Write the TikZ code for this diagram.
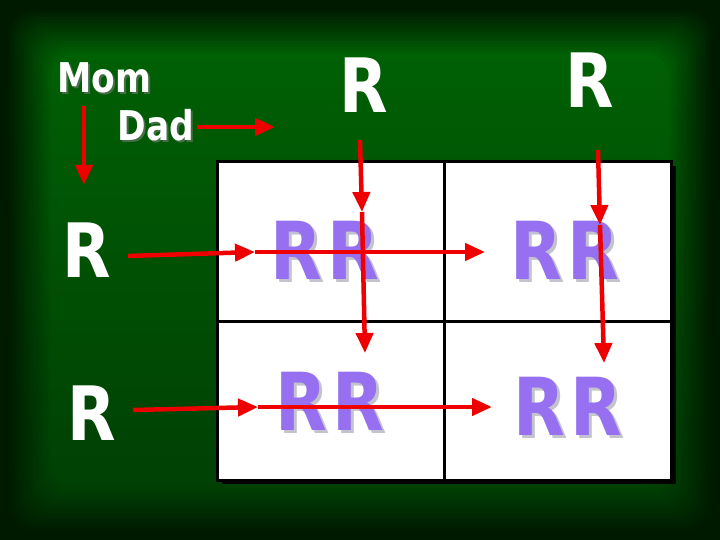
\documentclass[tikz,border=0pt]{standalone}
\usepackage{fontspec}
\setmainfont{DejaVu Sans}
\newfontfamily\chalkfont{DejaVu Sans}[FakeStretch=0.84]
\usetikzlibrary{arrows.meta}
\definecolor{bgedge}{RGB}{0,26,0}
\definecolor{bgtop}{RGB}{0,96,4}
\definecolor{bgbot}{RGB}{0,64,4}
\definecolor{arrowred}{RGB}{238,0,0}
\definecolor{allele}{RGB}{150,112,240}
\definecolor{allelegray}{RGB}{195,195,205}
\definecolor{chalkgray}{RGB}{70,110,70}
% text with a drop shadow behind it: colour, offset, text
\newcommand\withshadow[3]{\makebox[0pt][l]{\hspace{#2}\raisebox{-#2}{\textcolor{#1}{#3}}}#3}
\begin{document}
\begin{tikzpicture}[
        x=1pt,y=-1pt,
        every node/.style={inner sep=0pt},
        parent/.style={text=white,font=\chalkfont\bfseries\fontsize{75}{75}\selectfont},
        who/.style={text=white,font=\chalkfont\bfseries\fontsize{41}{41}\selectfont},
        geno/.style={text=allele,font=\chalkfont\bfseries\fontsize{80}{80}\selectfont},
        cell/.style={draw=black,fill=white,line width=3pt,minimum width=227pt,minimum height=159pt},
        redarrow/.style={draw=arrowred,line width=4.5pt,-{Triangle[length=20pt,width=17pt]}}
    ]
\useasboundingbox (0,0) rectangle (720,540);
% Board
    \fill[bgedge] (0,0) rectangle (720,540);
\foreach\i in {0,...,15}{
    \pgfmathtruncatemacro\p{\i*100/15}
    \shade[top color=bgtop!\p!bgedge,bottom color=bgbot!\p!bgedge,rounded corners=24pt]
        (6+3*\i,8+3*\i) rectangle (714-3*\i,534-3*\i);
}
% Square
    \fill[black!80!bgedge] (222,166) rectangle (676,484);
    \node[cell] (c11) at (331,241.5) {};
    \node[cell] (c12) at (558,241.5) {};
    \node[cell] (c21) at (331,400.5) {};
    \node[cell] (c22) at (558,400.5) {};
% Labels
    \node[who] (mom) at (104,79) {\withshadow{chalkgray}{2pt}{Mom}};
    \node[who] (dad) at (156,126) {\withshadow{chalkgray}{2pt}{Dad}};
    \node[parent] (dadR1) at (364,85) {R};
    \node[parent] (dadR2) at (590,80) {R};
    \node[parent] (momR1) at (87,250) {R};
    \node[parent] (momR2) at (92,413) {R};
\foreach\n/\x/\y in {g11/325/252,g12/565/252,g21/330/403,g22/568/408}{
    \node[geno] (\n) at (\x,\y) {\withshadow{allelegray}{3pt}{R\hspace{5pt}R}};
}
% Arrows
    \coordinate (momtip) at (84,185);
    \coordinate (dadtip) at (275,127);
    \coordinate (row1a) at (128,256);
    \coordinate (row1b) at (255,252);
    \coordinate (row1c) at (485,252);
    \coordinate (row2a) at (133,410);
    \coordinate (row2b) at (258,407);
    \coordinate (row2c) at (492,407);
    \coordinate (col1a) at (360,140);
    \coordinate (col1b) at (362,212);
    \coordinate (col1c) at (365,353);
    \coordinate (col2a) at (598,150);
    \coordinate (col2b) at (600,225);
    \coordinate (col2c) at (604,363);
    \draw[redarrow] (84,106) -- (momtip);
    \draw[redarrow] (dad.east) ++(3,1) -- (dadtip);
\foreach\s in {row1,row2,col1,col2}{
    \draw[redarrow] (\s a) -- (\s b);
    \draw[redarrow] (\s b) -- (\s c);
}
\end{tikzpicture}
\end{document}
